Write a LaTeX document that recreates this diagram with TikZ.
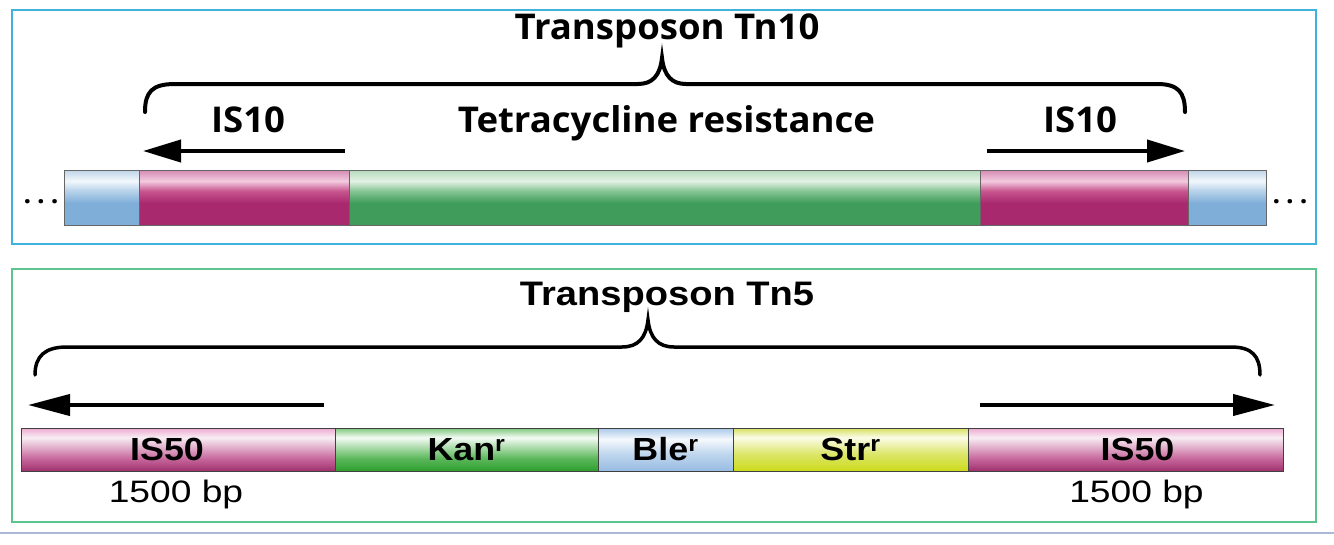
\documentclass[tikz,border=0pt]{standalone}
\usepackage{fontspec}
\usetikzlibrary{arrows.meta, positioning}
\newfontfamily\tnsans[FakeStretch=1.03]{Open Sans}
\newfontfamily\arsans[FakeStretch=1.12]{Liberation Sans}
\newfontfamily\arsanswide[FakeStretch=1.2]{Liberation Sans}
\definecolor{framecyan}{HTML}{3FB2E0}
\definecolor{framegreen}{HTML}{5EC48E}
\definecolor{rulegray}{HTML}{AAB9D8}
% top bar (Tn10)
\definecolor{magdark}{HTML}{A8296E}
\definecolor{magmid}{HTML}{C8568F}
\definecolor{magpale}{HTML}{F2CBDF}
\definecolor{magtop}{HTML}{D58AB3}
\definecolor{grdark}{HTML}{3F9C5A}
\definecolor{grmid}{HTML}{86C595}
\definecolor{grpale}{HTML}{E3F2E4}
\definecolor{grtop}{HTML}{B5DBBD}
\definecolor{bldark}{HTML}{7FAED8}
\definecolor{blmid}{HTML}{B7D2EA}
\definecolor{blpale}{HTML}{F2F7FC}
\definecolor{bltop}{HTML}{BFD5EA}
% bottom bar (Tn5)
\definecolor{isdark}{HTML}{A0306E}
\definecolor{ismid}{HTML}{C86A9E}
\definecolor{ispale}{HTML}{F8EEF4}
\definecolor{istop}{HTML}{EDA9D0}
\definecolor{kandark}{HTML}{2E9E2E}
\definecolor{kanmid}{HTML}{5DB85D}
\definecolor{kanpale}{HTML}{F4FBF4}
\definecolor{kantop}{HTML}{7CC67C}
\definecolor{bledark}{HTML}{98BCE2}
\definecolor{blemid}{HTML}{BFD6EE}
\definecolor{blepale}{HTML}{F5F9FD}
\definecolor{bletop}{HTML}{A9C8E8}
\definecolor{strdark}{HTML}{CCDA1A}
\definecolor{strmid}{HTML}{DCE66A}
\definecolor{strpale}{HTML}{FBFCE8}
\definecolor{strtop}{HTML}{D6E060}
\pgfdeclareverticalshading{tnmag}{100bp}{color(0bp)=(magdark); color(25bp)=(magdark); color(45bp)=(magdark); color(56bp)=(magmid); color(65bp)=(magpale); color(75bp)=(magtop); color(100bp)=(magtop)}
\pgfdeclareverticalshading{tngreen}{100bp}{color(0bp)=(grdark); color(25bp)=(grdark); color(45bp)=(grdark); color(56bp)=(grmid); color(65bp)=(grpale); color(75bp)=(grtop); color(100bp)=(grtop)}
\pgfdeclareverticalshading{tnblue}{100bp}{color(0bp)=(bldark); color(25bp)=(bldark); color(45bp)=(bldark); color(56bp)=(blmid); color(65bp)=(blpale); color(75bp)=(bltop); color(100bp)=(bltop)}
\pgfdeclareverticalshading{bnmag}{100bp}{color(0bp)=(isdark); color(25bp)=(isdark); color(40bp)=(ismid); color(64bp)=(ispale); color(75bp)=(istop); color(100bp)=(istop)}
\pgfdeclareverticalshading{bngreen}{100bp}{color(0bp)=(kandark); color(25bp)=(kandark); color(40bp)=(kanmid); color(64bp)=(kanpale); color(75bp)=(kantop); color(100bp)=(kantop)}
\pgfdeclareverticalshading{bnblue}{100bp}{color(0bp)=(bledark); color(25bp)=(bledark); color(45bp)=(blemid); color(62bp)=(blepale); color(75bp)=(bletop); color(100bp)=(bletop)}
\pgfdeclareverticalshading{bnyellow}{100bp}{color(0bp)=(strdark); color(25bp)=(strdark); color(45bp)=(strmid); color(64bp)=(strpale); color(75bp)=(strtop); color(100bp)=(strtop)}

\begin{document}
\begin{tikzpicture}[
    x=1pt, y=-1pt,
    tseg/.style={draw=black!60, line width=1pt, inner sep=0pt, outer sep=0pt, minimum height=55pt},
    bseg/.style={draw=black!75, line width=1pt, inner sep=0pt, outer sep=0pt, minimum height=43pt,
        font=\arsans\bfseries\fontsize{32}{36}\selectfont},
    tlbl/.style={inner sep=0pt, font=\tnsans\bfseries\fontsize{35.5}{40}\selectfont},
    blbl/.style={inner sep=0pt, font=\arsans\bfseries\fontsize{32}{36}\selectfont},
    bpnum/.style={inner sep=0pt, font=\arsanswide\fontsize{31}{36}\selectfont},
    dots/.style={inner sep=0pt, anchor=base, font=\tnsans\bfseries\fontsize{26}{30}\selectfont},
    brace/.style={line width=4pt, line cap=round},
    arr/.style={line width=4pt, -{Triangle[length=38pt, width=22pt]}},
    barr/.style={line width=4pt, -{Triangle[length=42pt, width=21pt]}},
]
\useasboundingbox (0,0) rectangle (1334,544);

% frames
\draw[framecyan, line width=1.5pt] (12,10) rectangle (1316,244);
\draw[framegreen, line width=1.5pt] (12,269) rectangle (1316,522);
\draw[rulegray, line width=2.5pt] (0,533) -- (1334,533);

% Tn10
\node[tseg, shading=tnblue, minimum width=75pt, anchor=north west] (lflank) at (64,170) {};
\node[tseg, shading=tnmag, minimum width=210pt, right=0pt of lflank] (lis) {};
\node[tseg, shading=tngreen, minimum width=631pt, right=0pt of lis] (tet) {};
\node[tseg, shading=tnmag, minimum width=208pt, right=0pt of tet] (ris) {};
\node[tseg, shading=tnblue, minimum width=78pt, right=0pt of ris] (rflank) {};
\node[dots] (ldots) at (41,203) {.\kern6pt.\kern6pt.};
\node[dots] (rdots) at (1290,203) {.\kern6pt.\kern6pt.};

\node[tlbl, above=38pt of lis, anchor=base, xshift=4pt] (lislbl) {IS10};
\node[tlbl, above=38pt of tet, anchor=base, xshift=2pt] (tetlbl) {Tetracycline resistance};
\node[tlbl, above=38pt of ris, anchor=base, xshift=-4pt] (rislbl) {IS10};
\node[tlbl, anchor=base] (tntitle) at (667,39) {Transposon Tn10};

\draw[arr] ([xshift=-4pt, yshift=19pt]lis.north east) -- ([xshift=4pt, yshift=19pt]lis.north west);
\draw[arr] ([xshift=7pt, yshift=19pt]ris.north west) -- ([xshift=-3pt, yshift=19pt]ris.north east);
\draw[brace] (145,112) .. controls (145,92) and (152,84) .. (175,84) -- (638,84)
    .. controls (652,84) and (660,76) .. (662,58) .. controls (664,76) and (672,84) .. (686,84)
    -- (1157,84) .. controls (1178,84) and (1185,92) .. (1185,112);

% Tn5
\node[bseg, shading=bnmag, minimum width=314pt, anchor=north west] (lfifty) at (21,428) {};
\node[bseg, shading=bngreen, minimum width=263pt, right=0pt of lfifty] (kan) {Kan\textsuperscript{r}};
\node[bseg, shading=bnblue, minimum width=135pt, right=0pt of kan] (ble) {Ble\textsuperscript{r}};
\node[bseg, shading=bnyellow, minimum width=235pt, right=0pt of ble] (str) {Str\textsuperscript{r}};
\node[bseg, shading=bnmag, minimum width=315pt, right=0pt of str] (rfifty) {};

\node[blbl, xshift=-11pt] (lfiftylbl) at (lfifty.center) {IS50};
\node[blbl, xshift=12pt] (rfiftylbl) at (rfifty.center) {IS50};
\node[bpnum, below=9pt of lfifty, xshift=-2pt] (lbp) {1500 bp};
\node[bpnum, below=9pt of rfifty, xshift=11pt] (rbp) {1500 bp};
\node[blbl, anchor=base, font=\arsans\bfseries\fontsize{34}{38}\selectfont] (tnfive) at (667,305) {Transposon Tn5};

\draw[barr] ([xshift=-11pt, yshift=23pt]lfifty.north east) -- ([xshift=7pt, yshift=23pt]lfifty.north west);
\draw[barr] ([xshift=12pt, yshift=23pt]rfifty.north west) -- ([xshift=-8pt, yshift=23pt]rfifty.north east);
\draw[brace, line width=3.5pt] (35,375) .. controls (35,356) and (45,347) .. (67,347) -- (622,347)
    .. controls (638,347) and (646,338) .. (648,320) .. controls (650,338) and (658,347) .. (674,347)
    -- (1231,347) .. controls (1252,347) and (1260,356) .. (1260,375);

\end{tikzpicture}
\end{document}
